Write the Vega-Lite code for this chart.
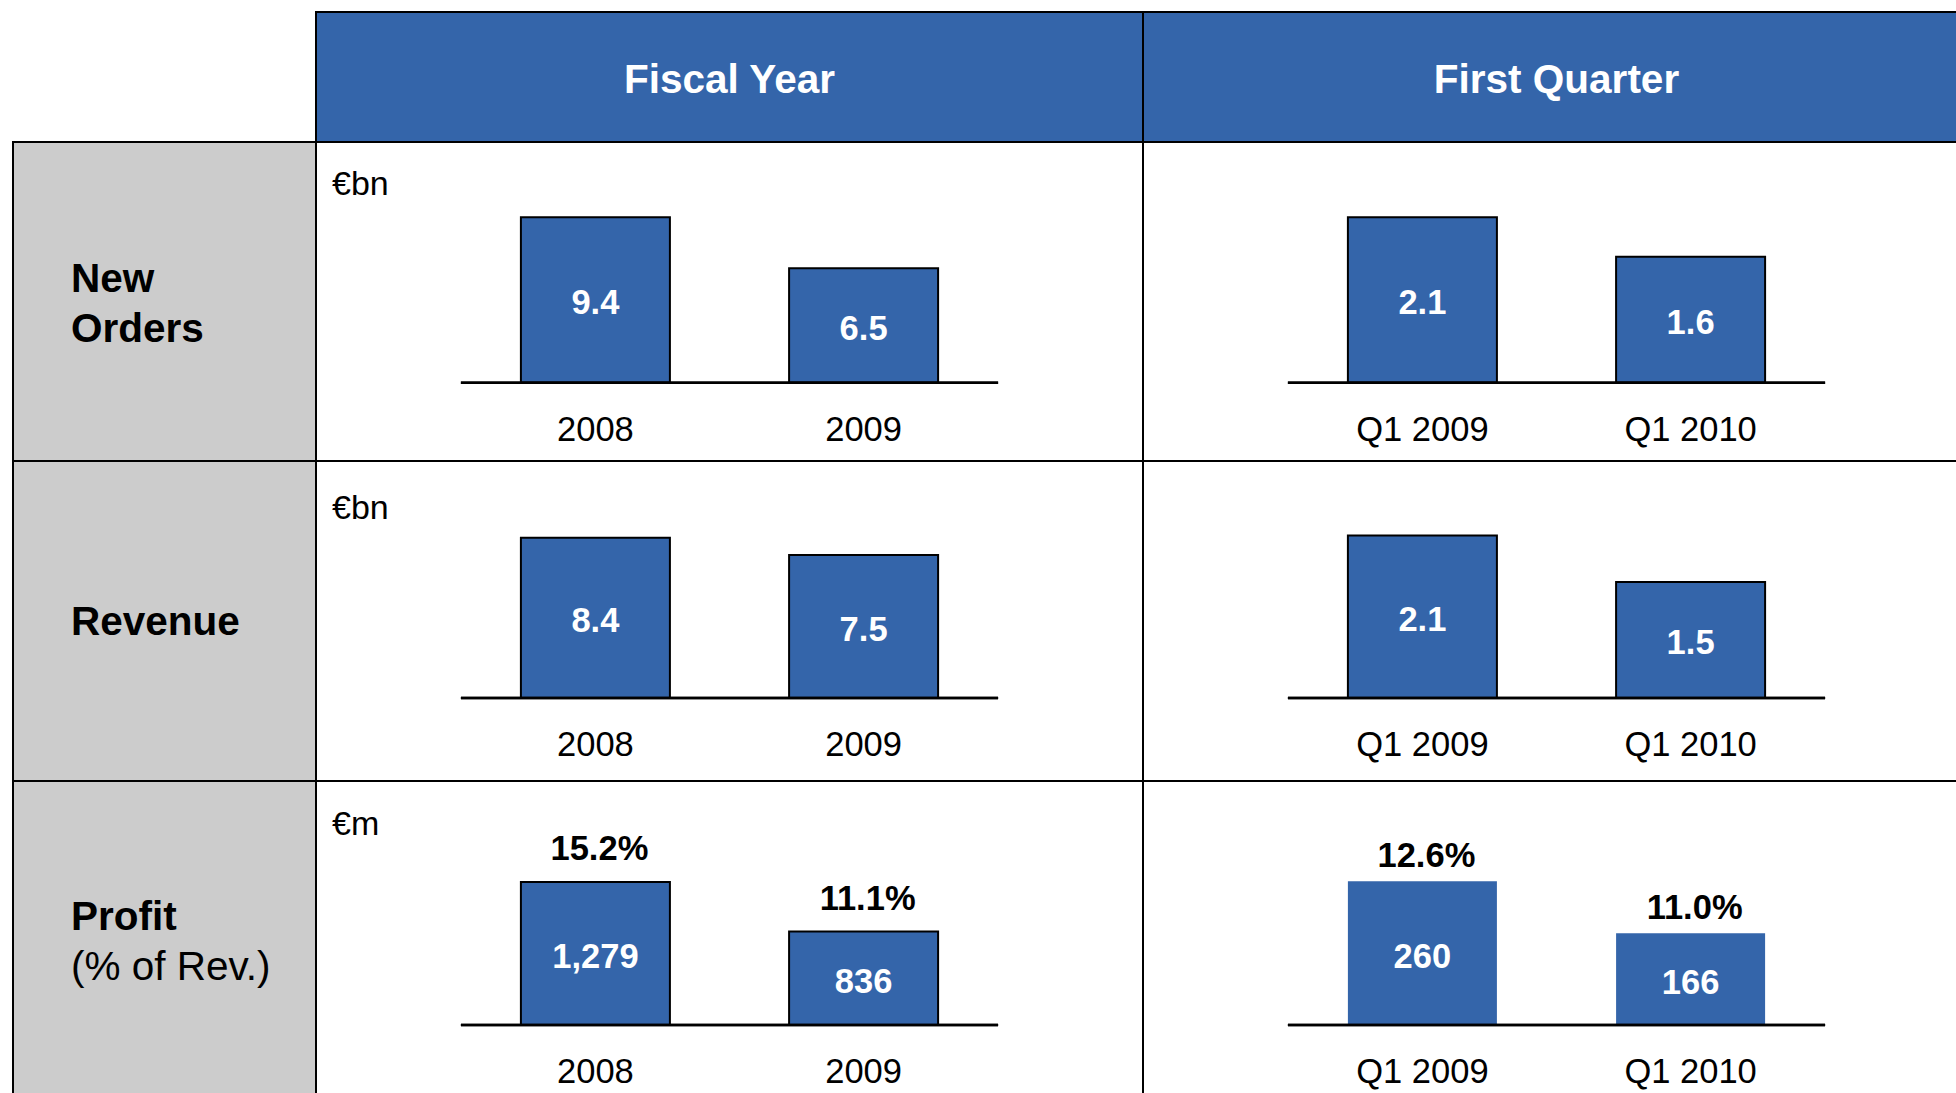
{
  "$schema": "https://vega.github.io/schema/vega-lite/v6.json",
  "padding": {"left": 12, "top": 11, "right": -15, "bottom": -9},
  "background": "white",
  "config": {
    "view": {"stroke": null},
    "font": "Liberation Sans",
    "text": {"font": "Liberation Sans", "color": "black"},
    "concat": {"spacing": 0}
  },
  "datasets": {
    "no_fy": [{"period": "2008", "value": 9.4}, {"period": "2009", "value": 6.5}],
    "no_q": [{"period": "Q1 2009", "value": 2.1}, {"period": "Q1 2010", "value": 1.6}],
    "rev_fy": [{"period": "2008", "value": 8.4}, {"period": "2009", "value": 7.5}],
    "rev_q": [{"period": "Q1 2009", "value": 2.1}, {"period": "Q1 2010", "value": 1.5}],
    "pr_fy": [{"period": "2008", "value": 1279, "margin": 0.152}, {"period": "2009", "value": 836, "margin": 0.111}],
    "pr_q": [{"period": "Q1 2009", "value": 260, "margin": 0.126}, {"period": "Q1 2010", "value": 166, "margin": 0.110}]
  },
  "columns": 3,
  "spacing": 0,
  "bounds": "flush",
  "align": "each",
  "concat": [
    {"width": 303, "height": 130, "data": {"values": [{"t": ""}]}, "mark": "text", "encoding": {"text": {"field": "t"}}},
    {"width": 827, "height": 130, "view": {"fill": "#3465aa", "stroke": "black", "strokeWidth": 2},
     "data": {"values": [{"t": "Fiscal Year"}]},
     "mark": {"type": "text", "color": "white", "fontSize": 40.5, "fontWeight": "bold", "baseline": "middle", "dy": 3.5},
     "encoding": {"text": {"field": "t"}}},
    {"width": 827, "height": 130, "view": {"fill": "#3465aa", "stroke": "black", "strokeWidth": 2},
     "data": {"values": [{"t": "First Quarter"}]},
     "mark": {"type": "text", "color": "white", "fontSize": 40.5, "fontWeight": "bold", "baseline": "middle", "dy": 3.5},
     "encoding": {"text": {"field": "t"}}},

    {"width": 303, "height": 319, "view": {"fill": "#cccccc", "stroke": "black", "strokeWidth": 2},
     "data": {"values": [{"t": "New\nOrders"}]},
     "mark": {"type": "text", "align": "left", "baseline": "middle", "fontSize": 40.5, "fontWeight": "bold", "lineBreak": "\n", "lineHeight": 50, "dx": -93.5, "dy": -22},
     "encoding": {"text": {"field": "t"}}},
    {"width": 827, "height": 319, "view": {"fill": "white", "stroke": "black", "strokeWidth": 2},
     "data": {"name": "no_fy"},
     "layer": [
       {"layer": [
         {"mark": {"type": "bar", "fill": "#3465aa", "stroke": "black", "strokeWidth": 2},
          "encoding": {
            "x": {"field": "period", "type": "nominal", "sort": null, "axis": null, "scale": {"paddingInner": 0.4444, "paddingOuter": 0.764, "align": 0.5}},
            "y": {"field": "value", "type": "quantitative", "axis": null, "scale": {"domain": [-4.45, 13.679], "nice": false, "zero": false}}}},
         {"mark": {"type": "rule", "color": "black", "strokeWidth": 2.5, "xOffset": -60, "x2Offset": 60},
          "encoding": {
            "x": {"datum": "2008", "bandPosition": 0, "axis": null},
            "x2": {"datum": "2009", "bandPosition": 1},
            "y": {"datum": 0, "axis": null}}},
         {"mark": {"type": "text", "fontSize": 34.5, "baseline": "middle", "dy": 48},
          "encoding": {
            "x": {"field": "period", "type": "nominal", "sort": null, "axis": null},
            "y": {"datum": 0, "axis": null},
            "text": {"field": "period"}}}
       ]},
       {"mark": {"type": "text", "fontSize": 34.5, "fontWeight": "bold", "color": "white", "baseline": "middle", "dy": 4.5},
        "encoding": {
          "x": {"field": "period", "type": "nominal", "sort": null, "axis": null},
          "y": {"field": "value", "type": "quantitative", "axis": null, "scale": {"domain": [-8.9, 27.358], "nice": false, "zero": false}},
          "text": {"field": "value", "format": ".1f"}}},
       {"data": {"values": [{"u": "€bn"}]},
        "mark": {"type": "text", "fontSize": 34, "align": "left", "baseline": "middle", "dx": -397.5, "dy": -117},
        "encoding": {"text": {"field": "u"}}}
     ],
     "resolve": {"scale": {"y": "independent"}}},
    {"width": 827, "height": 319, "view": {"fill": "white", "stroke": "black", "strokeWidth": 2},
     "data": {"name": "no_q"},
     "layer": [
       {"layer": [
         {"mark": {"type": "bar", "fill": "#3465aa", "stroke": "black", "strokeWidth": 2},
          "encoding": {
            "x": {"field": "period", "type": "nominal", "sort": null, "axis": null, "scale": {"paddingInner": 0.4444, "paddingOuter": 0.764, "align": 0.5}},
            "y": {"field": "value", "type": "quantitative", "axis": null, "scale": {"domain": [-0.9942, 3.0561], "nice": false, "zero": false}}}},
         {"mark": {"type": "rule", "color": "black", "strokeWidth": 2.5, "xOffset": -60, "x2Offset": 60},
          "encoding": {
            "x": {"datum": "Q1 2009", "bandPosition": 0, "axis": null},
            "x2": {"datum": "Q1 2010", "bandPosition": 1},
            "y": {"datum": 0, "axis": null}}},
         {"mark": {"type": "text", "fontSize": 34.5, "baseline": "middle", "dy": 48},
          "encoding": {
            "x": {"field": "period", "type": "nominal", "sort": null, "axis": null},
            "y": {"datum": 0, "axis": null},
            "text": {"field": "period"}}}
       ]},
       {"mark": {"type": "text", "fontSize": 34.5, "fontWeight": "bold", "color": "white", "baseline": "middle", "dy": 4.5},
        "encoding": {
          "x": {"field": "period", "type": "nominal", "sort": null, "axis": null},
          "y": {"field": "value", "type": "quantitative", "axis": null, "scale": {"domain": [-1.9884, 6.1122], "nice": false, "zero": false}},
          "text": {"field": "value", "format": ".1f"}}}
     ],
     "resolve": {"scale": {"y": "independent"}}},

    {"width": 303, "height": 320, "view": {"fill": "#cccccc", "stroke": "black", "strokeWidth": 2},
     "data": {"values": [{"t": "Revenue"}]},
     "mark": {"type": "text", "align": "left", "baseline": "middle", "fontSize": 40.5, "fontWeight": "bold", "dx": -93.5, "dy": 2},
     "encoding": {"text": {"field": "t"}}},
    {"width": 827, "height": 320, "view": {"fill": "white", "stroke": "black", "strokeWidth": 2},
     "data": {"name": "rev_fy"},
     "layer": [
       {"layer": [
         {"mark": {"type": "bar", "fill": "#3465aa", "stroke": "black", "strokeWidth": 2},
          "encoding": {
            "x": {"field": "period", "type": "nominal", "sort": null, "axis": null, "scale": {"paddingInner": 0.4444, "paddingOuter": 0.764, "align": 0.5}},
            "y": {"field": "value", "type": "quantitative", "axis": null, "scale": {"domain": [-4.35, 12.421], "nice": false, "zero": false}}}},
         {"mark": {"type": "rule", "color": "black", "strokeWidth": 2.5, "xOffset": -60, "x2Offset": 60},
          "encoding": {
            "x": {"datum": "2008", "bandPosition": 0, "axis": null},
            "x2": {"datum": "2009", "bandPosition": 1},
            "y": {"datum": 0, "axis": null}}},
         {"mark": {"type": "text", "fontSize": 34.5, "baseline": "middle", "dy": 48},
          "encoding": {
            "x": {"field": "period", "type": "nominal", "sort": null, "axis": null},
            "y": {"datum": 0, "axis": null},
            "text": {"field": "period"}}}
       ]},
       {"mark": {"type": "text", "fontSize": 34.5, "fontWeight": "bold", "color": "white", "baseline": "middle", "dy": 4.5},
        "encoding": {
          "x": {"field": "period", "type": "nominal", "sort": null, "axis": null},
          "y": {"field": "value", "type": "quantitative", "axis": null, "scale": {"domain": [-8.7, 24.843], "nice": false, "zero": false}},
          "text": {"field": "value", "format": ".1f"}}},
       {"data": {"values": [{"u": "€bn"}]},
        "mark": {"type": "text", "fontSize": 34, "align": "left", "baseline": "middle", "dx": -397.5, "dy": -112.5},
        "encoding": {"text": {"field": "u"}}}
     ],
     "resolve": {"scale": {"y": "independent"}}},
    {"width": 827, "height": 320, "view": {"fill": "white", "stroke": "black", "strokeWidth": 2},
     "data": {"name": "rev_q"},
     "layer": [
       {"layer": [
         {"mark": {"type": "bar", "fill": "#3465aa", "stroke": "black", "strokeWidth": 2},
          "encoding": {
            "x": {"field": "period", "type": "nominal", "sort": null, "axis": null, "scale": {"paddingInner": 0.4444, "paddingOuter": 0.764, "align": 0.5}},
            "y": {"field": "value", "type": "quantitative", "axis": null, "scale": {"domain": [-1.0732, 3.0644], "nice": false, "zero": false}}}},
         {"mark": {"type": "rule", "color": "black", "strokeWidth": 2.5, "xOffset": -60, "x2Offset": 60},
          "encoding": {
            "x": {"datum": "Q1 2009", "bandPosition": 0, "axis": null},
            "x2": {"datum": "Q1 2010", "bandPosition": 1},
            "y": {"datum": 0, "axis": null}}},
         {"mark": {"type": "text", "fontSize": 34.5, "baseline": "middle", "dy": 48},
          "encoding": {
            "x": {"field": "period", "type": "nominal", "sort": null, "axis": null},
            "y": {"datum": 0, "axis": null},
            "text": {"field": "period"}}}
       ]},
       {"mark": {"type": "text", "fontSize": 34.5, "fontWeight": "bold", "color": "white", "baseline": "middle", "dy": 4.5},
        "encoding": {
          "x": {"field": "period", "type": "nominal", "sort": null, "axis": null},
          "y": {"field": "value", "type": "quantitative", "axis": null, "scale": {"domain": [-2.1464, 6.1288], "nice": false, "zero": false}},
          "text": {"field": "value", "format": ".1f"}}}
     ],
     "resolve": {"scale": {"y": "independent"}}},

    {"width": 303, "height": 320, "view": {"fill": "#cccccc", "stroke": "black", "strokeWidth": 2},
     "data": {"values": [{"t": "Profit", "s": "(% of Rev.)"}]},
     "layer": [
       {"mark": {"type": "text", "align": "left", "baseline": "middle", "fontSize": 40.5, "fontWeight": "bold", "dx": -93.5, "dy": -23.5},
        "encoding": {"text": {"field": "t"}}},
       {"mark": {"type": "text", "align": "left", "baseline": "middle", "fontSize": 40.5, "dx": -93.5, "dy": 26.5},
        "encoding": {"text": {"field": "s"}}}
     ]},
    {"width": 827, "height": 320, "view": {"fill": "white", "stroke": "black", "strokeWidth": 2},
     "data": {"name": "pr_fy"},
     "layer": [
       {"layer": [
         {"mark": {"type": "bar", "fill": "#3465aa", "stroke": "black", "strokeWidth": 2},
          "encoding": {
            "x": {"field": "period", "type": "nominal", "sort": null, "axis": null, "scale": {"paddingInner": 0.4444, "paddingOuter": 0.764, "align": 0.5}},
            "y": {"field": "value", "type": "quantitative", "axis": null, "scale": {"domain": [-679.7, 2182.3], "nice": false, "zero": false}}}},
         {"mark": {"type": "rule", "color": "black", "strokeWidth": 2.5, "xOffset": -60, "x2Offset": 60},
          "encoding": {
            "x": {"datum": "2008", "bandPosition": 0, "axis": null},
            "x2": {"datum": "2009", "bandPosition": 1},
            "y": {"datum": 0, "axis": null}}},
         {"mark": {"type": "text", "fontSize": 34.5, "baseline": "middle", "dy": 48},
          "encoding": {
            "x": {"field": "period", "type": "nominal", "sort": null, "axis": null},
            "y": {"datum": 0, "axis": null},
            "text": {"field": "period"}}},
         {"mark": {"type": "text", "fontSize": 34.5, "fontWeight": "bold", "baseline": "middle", "dy": -32, "dx": 4},
          "encoding": {
            "x": {"field": "period", "type": "nominal", "sort": null, "axis": null},
            "y": {"field": "value", "type": "quantitative", "axis": null},
            "text": {"field": "margin", "format": ".1%"}}}
       ]},
       {"mark": {"type": "text", "fontSize": 34.5, "fontWeight": "bold", "color": "white", "baseline": "middle", "dy": 4.5},
        "encoding": {
          "x": {"field": "period", "type": "nominal", "sort": null, "axis": null},
          "y": {"field": "value", "type": "quantitative", "axis": null, "scale": {"domain": [-1359.4, 4364.6], "nice": false, "zero": false}},
          "text": {"field": "value", "format": ","}}},
       {"data": {"values": [{"u": "€m"}]},
        "mark": {"type": "text", "fontSize": 34, "align": "left", "baseline": "middle", "dx": -397.5, "dy": -115.6},
        "encoding": {"text": {"field": "u"}}}
     ],
     "resolve": {"scale": {"y": "independent"}}},
    {"width": 827, "height": 320, "view": {"fill": "white", "stroke": "black", "strokeWidth": 2},
     "data": {"name": "pr_q"},
     "layer": [
       {"layer": [
         {"mark": {"type": "bar", "fill": "#3465aa"},
          "encoding": {
            "x": {"field": "period", "type": "nominal", "sort": null, "axis": null, "scale": {"paddingInner": 0.4444, "paddingOuter": 0.764, "align": 0.5}},
            "y": {"field": "value", "type": "quantitative", "axis": null, "scale": {"domain": [-137.44, 441.26], "nice": false, "zero": false}}}},
         {"mark": {"type": "rule", "color": "black", "strokeWidth": 2.5, "xOffset": -60, "x2Offset": 60},
          "encoding": {
            "x": {"datum": "Q1 2009", "bandPosition": 0, "axis": null},
            "x2": {"datum": "Q1 2010", "bandPosition": 1},
            "y": {"datum": 0, "axis": null}}},
         {"mark": {"type": "text", "fontSize": 34.5, "baseline": "middle", "dy": 48},
          "encoding": {
            "x": {"field": "period", "type": "nominal", "sort": null, "axis": null},
            "y": {"datum": 0, "axis": null},
            "text": {"field": "period"}}},
         {"mark": {"type": "text", "fontSize": 34.5, "fontWeight": "bold", "baseline": "middle", "dy": -24, "dx": 4},
          "encoding": {
            "x": {"field": "period", "type": "nominal", "sort": null, "axis": null},
            "y": {"field": "value", "type": "quantitative", "axis": null},
            "text": {"field": "margin", "format": ".1%"}}}
       ]},
       {"mark": {"type": "text", "fontSize": 34.5, "fontWeight": "bold", "color": "white", "baseline": "middle", "dy": 4.5},
        "encoding": {
          "x": {"field": "period", "type": "nominal", "sort": null, "axis": null},
          "y": {"field": "value", "type": "quantitative", "axis": null, "scale": {"domain": [-274.88, 882.52], "nice": false, "zero": false}},
          "text": {"field": "value", "format": ","}}}
     ],
     "resolve": {"scale": {"y": "independent"}}}
  ]
}
